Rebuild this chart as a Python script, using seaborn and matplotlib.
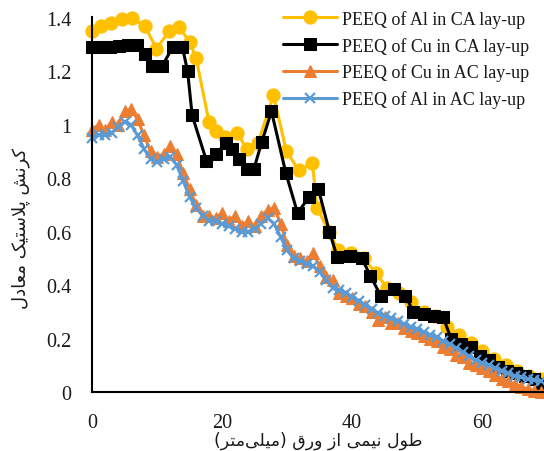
import numpy as np
import pandas as pd
import seaborn as sns
import matplotlib
matplotlib.use("Agg")
import matplotlib.pyplot as plt

# ---- data -------------------------------------------------------------
al_ca_x = [0, 1.4, 2.9, 4.6, 6.1, 8.1, 9.9, 11.9, 13.4, 15.0, 16.0, 18.0, 19.1,
           20.4, 22.3, 23.8, 25.5, 27.9, 29.9, 31.8, 33.9, 34.6, 36.4, 37.9,
           39.8, 41.8, 43.6, 45.4, 47.2, 49.0, 51.0, 52.8, 54.6, 56.4, 58.2,
           60.0, 61.8, 63.6, 65.4, 67.2, 69.0]
al_ca_y = [1.35, 1.37, 1.38, 1.395, 1.40, 1.37, 1.285, 1.35, 1.365, 1.31, 1.25,
           1.01, 0.975, 0.955, 0.97, 0.91, 0.93, 1.11, 0.90, 0.83, 0.855, 0.69,
           0.60, 0.53, 0.52, 0.50, 0.445, 0.39, 0.37, 0.335, 0.30, 0.285, 0.245,
           0.215, 0.185, 0.155, 0.125, 0.10, 0.08, 0.06, 0.05]

cu_ca_x = [0, 1.4, 2.8, 4.2, 5.6, 6.9, 8.1, 9.2, 10.8, 12.4, 13.9, 14.7, 15.4,
           17.6, 19.0, 20.6, 21.6, 22.6, 23.8, 24.9, 26.1, 27.6, 29.8, 31.6,
           33.4, 34.8, 36.5, 37.7, 39.6, 41.5, 42.8, 44.4, 46.4, 48.2, 49.4,
           51.0, 52.6, 54.0, 55.2, 56.8, 58.2, 59.6, 61.0, 62.4, 63.8, 65.2,
           66.6, 68.0, 69.2]
cu_ca_y = [1.29, 1.29, 1.29, 1.295, 1.30, 1.30, 1.265, 1.22, 1.22, 1.29, 1.29,
           1.20, 1.035, 0.865, 0.89, 0.93, 0.91, 0.87, 0.835, 0.835, 0.935,
           1.05, 0.82, 0.67, 0.73, 0.76, 0.60, 0.505, 0.51, 0.50, 0.435, 0.36,
           0.385, 0.36, 0.30, 0.29, 0.285, 0.28, 0.20, 0.18, 0.17, 0.135, 0.12,
           0.095, 0.08, 0.07, 0.06, 0.05, 0.03]

ac_x = list(range(70))
cu_ac_y = [0.98, 1.00, 0.98, 1.01, 1.00, 1.05, 1.06, 1.02, 0.96, 0.90,
           0.88, 0.89, 0.92, 0.89, 0.82, 0.76, 0.70, 0.66, 0.66, 0.65,
           0.67, 0.64, 0.66, 0.62, 0.64, 0.62, 0.66, 0.68, 0.69, 0.63,
           0.55, 0.51, 0.50, 0.49, 0.52, 0.47, 0.43, 0.42, 0.37, 0.36,
           0.35, 0.33, 0.32, 0.30, 0.27, 0.28, 0.26, 0.26, 0.24, 0.23,
           0.22, 0.21, 0.20, 0.19, 0.17, 0.16, 0.14, 0.13, 0.11, 0.10,
           0.09, 0.08, 0.065, 0.05, 0.04, 0.03, 0.02, 0.01, 0.005, 0.0]
al_ac_y = [0.95, 0.96, 0.96, 0.97, 0.99, 1.01, 1.00, 0.96, 0.91, 0.87,
           0.86, 0.87, 0.88, 0.85, 0.79, 0.73, 0.69, 0.66, 0.64, 0.64,
           0.63, 0.62, 0.61, 0.60, 0.60, 0.61, 0.63, 0.65, 0.63, 0.58,
           0.53, 0.50, 0.49, 0.48, 0.47, 0.45, 0.42, 0.39, 0.38, 0.37,
           0.355, 0.34, 0.325, 0.31, 0.295, 0.285, 0.275, 0.265, 0.255, 0.245,
           0.235, 0.225, 0.215, 0.205, 0.19, 0.18, 0.165, 0.15, 0.135, 0.12,
           0.11, 0.10, 0.09, 0.08, 0.07, 0.06, 0.055, 0.05, 0.045, 0.04]

series_names = ["PEEQ of Al in CA lay-up", "PEEQ of Cu in CA lay-up",
                "PEEQ of Cu in AC lay-up", "PEEQ of Al in AC lay-up"]
x_ticks = [0, 20, 40, 60]
y_ticks = [0, 0.2, 0.4, 0.6, 0.8, 1.0, 1.2, 1.4]
y_tick_labels = ["0", "0.2", "0.4", "0.6", "0.8", "1", "1.2", "1.4"]
x_title = "طول نیمی از ورق (میلی\u200cمتر)"
y_title = "کرنش پلاستیک معادل"

# ---- simple Persian shaping (contextual forms + right-to-left order) ----
FORMS = {
    'ا': ('\uFE8D', '\uFE8E', None, None),
    'د': ('\uFEA9', '\uFEAA', None, None),
    'ر': ('\uFEAD', '\uFEAE', None, None),
    'ز': ('\uFEAF', '\uFEB0', None, None),
    'و': ('\uFEED', '\uFEEE', None, None),
    'ت': ('\uFE95', '\uFE96', '\uFE97', '\uFE98'),
    'س': ('\uFEB1', '\uFEB2', '\uFEB3', '\uFEB4'),
    'ش': ('\uFEB5', '\uFEB6', '\uFEB7', '\uFEB8'),
    'ط': ('\uFEC1', '\uFEC2', '\uFEC3', '\uFEC4'),
    'ع': ('\uFEC9', '\uFECA', '\uFECB', '\uFECC'),
    'ق': ('\uFED5', '\uFED6', '\uFED7', '\uFED8'),
    'ل': ('\uFEDD', '\uFEDE', '\uFEDF', '\uFEE0'),
    'م': ('\uFEE1', '\uFEE2', '\uFEE3', '\uFEE4'),
    'ن': ('\uFEE5', '\uFEE6', '\uFEE7', '\uFEE8'),
    'ی': ('\uFBFC', '\uFBFD', '\uFBFE', '\uFBFF'),
    'ک': ('\uFB8E', '\uFB8F', '\uFB90', '\uFB91'),
    'پ': ('\uFB56', '\uFB57', '\uFB58', '\uFB59'),
}


def _dual(c):
    return c in FORMS and FORMS[c][2] is not None


def shape_rtl(s):
    out = []
    i, n = 0, len(s)
    while i < n:
        c = s[i]
        if c not in FORMS:
            if c != '\u200c':
                out.append(c)
            i += 1
            continue
        joins_prev = i > 0 and _dual(s[i - 1])
        if c == 'ل' and i + 1 < n and s[i + 1] == 'ا':
            out.append('\uFEFC' if joins_prev else '\uFEFB')
            i += 2
            continue
        joins_next = _dual(c) and i + 1 < n and s[i + 1] in FORMS
        iso, fin, ini, med = FORMS[c]
        if joins_prev and joins_next:
            g = med
        elif joins_prev:
            g = fin
        elif joins_next:
            g = ini
        else:
            g = iso
        out.append(g)
        i += 1
    mirror = {'(': ')', ')': '('}
    return ''.join(mirror.get(ch, ch) for ch in reversed(out))


# ---- figure -----------------------------------------------------------
sns.set_theme(style="white")
plt.rcParams['font.family'] = ['Liberation Serif', 'DejaVu Sans']

fig = plt.figure(figsize=(5.44, 4.52), dpi=100)
ax = fig.add_axes([92 / 544, 59 / 452, 1 - 92 / 544, (393 - 18) / 452])

df_al_ca = pd.DataFrame({"x": al_ca_x, "y": al_ca_y})
df_cu_ca = pd.DataFrame({"x": cu_ca_x, "y": cu_ca_y})
df_cu_ac = pd.DataFrame({"x": ac_x, "y": cu_ac_y})
df_al_ac = pd.DataFrame({"x": ac_x, "y": al_ac_y})

styles = [
    (df_al_ca, "#FFC000", "o", 9.5, {}),
    (df_cu_ca, "#000000", "s", 9, {}),
    (df_cu_ac, "#ED7D31", "^", 8, {}),
    (df_al_ac, "#5B9BD5", "x", 7, {"markeredgewidth": 1.6}),
]
for (df, color, marker, ms, extra), name in zip(styles, series_names):
    sns.lineplot(data=df, x="x", y="y", ax=ax, color=color, marker=marker,
                 markersize=ms, markeredgecolor=color, linewidth=2.2,
                 sort=False, estimator=None, label=name, clip_on=False,
                 **extra)

ax.set_xlim(0, 69.5)
ax.set_ylim(0, 1.403)
ax.set_xticks(x_ticks)
ax.set_yticks(y_ticks)
ax.set_yticklabels(y_tick_labels)
ax.tick_params(axis='both', length=0, labelsize=14.5, colors='#1a1a1a')
ax.tick_params(axis='x', pad=15)
ax.tick_params(axis='y', pad=15)

for side in ("top", "right"):
    ax.spines[side].set_visible(False)
for side in ("left", "bottom"):
    ax.spines[side].set_color("black")
    ax.spines[side].set_linewidth(1.5)

ax.set_xlabel(shape_rtl(x_title), family=['DejaVu Sans'], fontsize=12.5,
              color='#1a1a1a')
ax.xaxis.set_label_coords(0.50, -0.128)
ax.xaxis.label.set_va('center')
ax.set_ylabel(shape_rtl(y_title), family=['DejaVu Sans'], fontsize=13,
              color='#1a1a1a')
ax.yaxis.set_label_coords(-0.158, 0.44)
ax.yaxis.label.set_va('center')

leg = ax.legend(loc='upper left', bbox_to_anchor=(281 / 544, 1 - 9 / 452),
                bbox_transform=fig.transFigure, frameon=False, fontsize=13,
                handlelength=3.0, handletextpad=0.3, labelspacing=0.5,
                borderpad=0.1, borderaxespad=0)
for t in leg.get_texts():
    t.set_color('#1a1a1a')

fig.savefig("out.png", dpi=100)
